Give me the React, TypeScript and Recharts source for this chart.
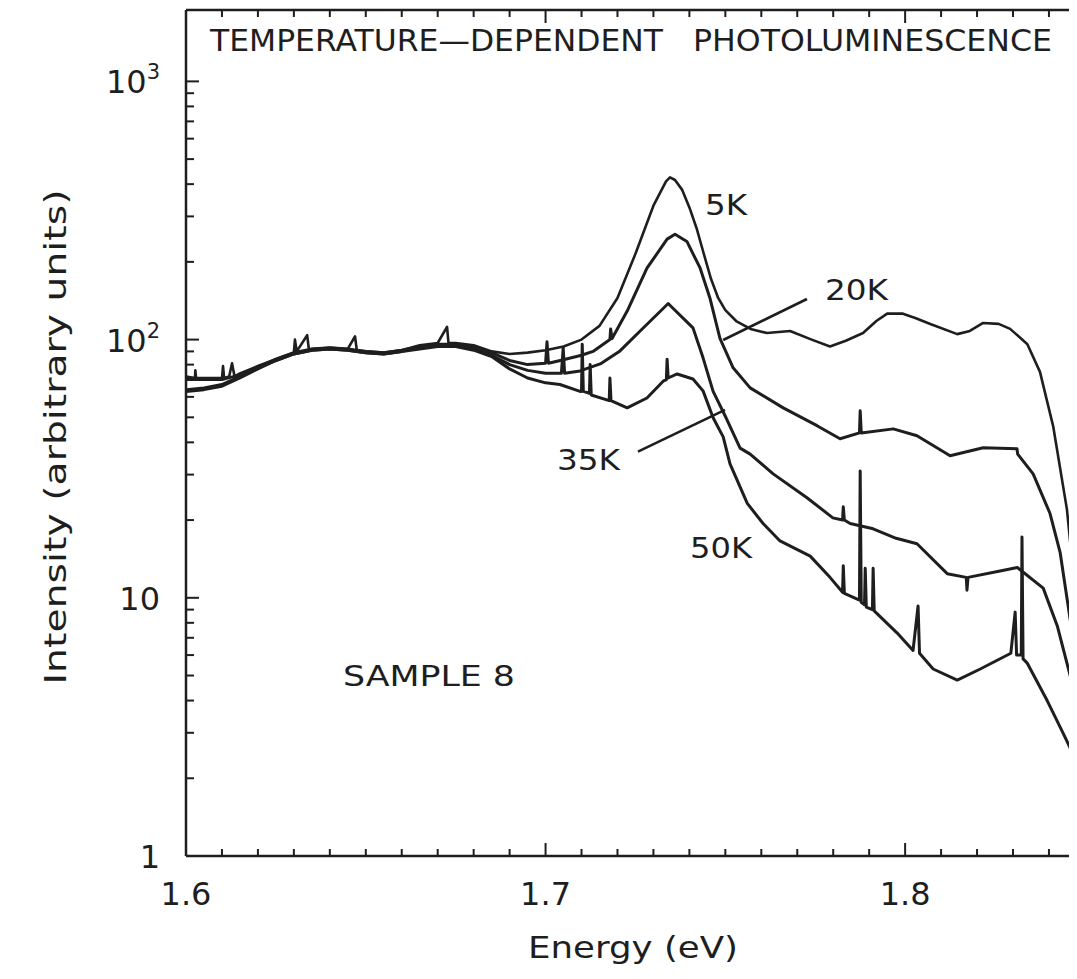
import React from 'react';
import { LineChart, Line, XAxis, YAxis, ReferenceLine } from 'recharts';

// ---- axes ----
const X_DOMAIN: [number, number] = [1.6, 1.8478];
const Y_DOMAIN: [number, number] = [1, 1890];
const xTicks = [1.6, 1.61, 1.62, 1.63, 1.64, 1.65, 1.66, 1.67, 1.68, 1.69, 1.7, 1.71, 1.72, 1.73, 1.74, 1.75, 1.76, 1.77, 1.78, 1.79, 1.8, 1.81, 1.82, 1.83, 1.84];
const xMajor = [1.6, 1.7, 1.8];
const yTicks = [1, 2, 3, 4, 5, 6, 7, 8, 9, 10, 20, 30, 40, 50, 60, 70, 80, 90, 100, 200, 300, 400, 500, 600, 700, 800, 900, 1000];
const yMajor = [1, 10, 100, 1000];

// ---- series: energy (eV) and intensity (a.u.) ----
const e5K = [1.6, 1.6025, 1.6026, 1.6028, 1.605, 1.61, 1.6103, 1.6106, 1.612, 1.6128, 1.6135, 1.615, 1.62, 1.625, 1.63, 1.6303, 1.6308, 1.6337, 1.6342, 1.635, 1.64, 1.645, 1.647, 1.6475, 1.65, 1.655, 1.66, 1.665, 1.67, 1.6726, 1.673, 1.675, 1.68, 1.685, 1.69, 1.695, 1.7, 1.705, 1.71, 1.715, 1.72, 1.725, 1.73, 1.7335, 1.7346, 1.736, 1.738, 1.74, 1.742, 1.744, 1.746, 1.748, 1.75, 1.753, 1.757, 1.7616, 1.768, 1.774, 1.7791, 1.7835, 1.7883, 1.792, 1.795, 1.7994, 1.803, 1.807, 1.8145, 1.818, 1.8217, 1.826, 1.8292, 1.834, 1.8375, 1.8412, 1.845, 1.8478];
const i5K = [72, 71, 76, 71, 71, 71, 79, 71, 72, 81, 72, 74, 79, 84, 89, 100, 90, 104, 91, 92, 93, 92, 103, 91, 90, 89, 91, 95, 97, 112, 97, 97, 95, 90, 88, 89, 91, 94, 100, 113, 145, 215, 330, 410, 425, 415, 380, 325, 270, 215, 172, 145, 130, 118, 110, 106, 108, 100, 94, 99, 106, 118, 126, 126, 121, 115, 105, 108, 116, 115, 110, 96, 75, 46, 22, 9];

const e20K = [1.6, 1.605, 1.61, 1.615, 1.62, 1.625, 1.63, 1.635, 1.64, 1.645, 1.65, 1.655, 1.66, 1.665, 1.67, 1.675, 1.68, 1.685, 1.69, 1.695, 1.7, 1.7004, 1.7008, 1.7041, 1.71, 1.7132, 1.7179, 1.7181, 1.7185, 1.7227, 1.7282, 1.7338, 1.736, 1.7393, 1.743, 1.7457, 1.7485, 1.7521, 1.7569, 1.7661, 1.7755, 1.7819, 1.7873, 1.7875, 1.7878, 1.7967, 1.8033, 1.8125, 1.8217, 1.8311, 1.8313, 1.8356, 1.8403, 1.8431, 1.8478];
const i20K = [70, 70, 70, 73, 78, 84, 89, 92, 93, 92, 90, 89, 91, 94, 96, 96, 94, 89, 83, 80, 81, 98, 81, 83, 87, 90, 100, 110, 101, 129, 189, 245, 256, 240, 189, 145, 101, 78, 65, 54.4, 46.4, 41.3, 43.5, 53, 43.5, 45.1, 42.4, 35.5, 38.1, 37.8, 36, 30.2, 21.2, 15, 5.5];

const e35K = [1.6, 1.605, 1.61, 1.615, 1.62, 1.625, 1.63, 1.635, 1.64, 1.645, 1.65, 1.655, 1.66, 1.665, 1.67, 1.675, 1.68, 1.685, 1.69, 1.695, 1.7, 1.7044, 1.7049, 1.7053, 1.7096, 1.7152, 1.7207, 1.7263, 1.7327, 1.7341, 1.7355, 1.741, 1.7438, 1.7466, 1.7502, 1.7541, 1.7569, 1.7633, 1.7727, 1.7799, 1.7826, 1.7828, 1.7831, 1.7847, 1.7911, 1.7975, 1.8033, 1.8117, 1.817, 1.8172, 1.8175, 1.8264, 1.8312, 1.8384, 1.8423, 1.8459, 1.8478];
const i35K = [64, 65, 67, 72, 78, 83, 88, 91, 92, 91, 89, 88, 90, 93, 95, 95, 92, 87, 80, 76, 74, 74, 93, 74, 75.6, 80.5, 90.4, 108, 132, 138, 132, 111, 85, 63, 49.8, 38, 36, 30.2, 24.4, 20.4, 20, 22.5, 20, 19.4, 18.5, 17, 16.2, 12.4, 12, 10.7, 12, 12.7, 13.1, 10.9, 7.8, 5, 3.6];

const e50K = [1.6, 1.605, 1.61, 1.615, 1.62, 1.625, 1.63, 1.635, 1.64, 1.645, 1.65, 1.655, 1.66, 1.665, 1.67, 1.675, 1.68, 1.685, 1.69, 1.695, 1.7, 1.704, 1.7096, 1.71, 1.7102, 1.7105, 1.7122, 1.7124, 1.7127, 1.7177, 1.7179, 1.7182, 1.7227, 1.7282, 1.7327, 1.7336, 1.7338, 1.7341, 1.7366, 1.741, 1.7438, 1.7466, 1.7494, 1.7513, 1.7561, 1.7605, 1.7652, 1.7736, 1.7791, 1.7826, 1.7828, 1.7831, 1.7873, 1.7875, 1.7878, 1.7887, 1.7889, 1.7892, 1.7909, 1.7911, 1.7914, 1.7978, 1.8022, 1.8036, 1.804, 1.8078, 1.8145, 1.8209, 1.8294, 1.8306, 1.831, 1.8323, 1.8325, 1.8328, 1.8339, 1.8395, 1.8439, 1.8478];
const i50K = [63, 64, 66, 71, 77, 83, 88, 91, 92, 91, 89, 88, 90, 92, 94, 94, 91, 86, 77, 71, 68, 67, 63, 63, 96, 63, 62, 80, 61, 58, 71, 58, 54.4, 59.4, 69, 70, 84, 71, 73.6, 70.4, 63.3, 49.8, 42, 33, 23.2, 19.4, 16.6, 14.5, 12, 10.5, 13.3, 10.4, 9.8, 31, 9.6, 9.4, 13, 9.2, 9, 13, 8.9, 7.3, 6.25, 9.3, 6.1, 5.3, 4.8, 5.3, 6.1, 8.8, 6, 6, 17.2, 5.8, 5.6, 4, 3, 2.3];

// leader lines for labels (energy, intensity)
const leader20K = [[1.7727, 143.6], [1.7494, 99.6]];
const leader35K = [[1.7257, 36.8], [1.7499, 53.4]];

const zip = (xs: number[], ys: number[]) => xs.map((x, i) => ({ x, y: ys[i] }));
const d5K = zip(e5K, i5K);
const d20K = zip(e20K, i20K);
const d35K = zip(e35K, i35K);
const d50K = zip(e50K, i50K);

const INK = '#1e1e1e';
const FONT = '"DejaVu Sans", sans-serif';
const W = 1069;
const H = 960;

const isMajorX = (v: number) => xMajor.some((m) => Math.abs(m - v) < 1e-6);
const isMajorY = (v: number) => yMajor.some((m) => Math.abs(m - v) < 1e-6);

const BottomTick = (props: any) => {
  const { x, y, payload } = props;
  const v = payload.value;
  const major = isMajorX(v);
  const axisY = y - 49;
  return (
    <g>
      <line x1={x} x2={x} y1={axisY} y2={axisY - (major ? 13 : 7)} stroke={INK} strokeWidth={2} />
      {major && (
        <text x={x} y={y} textAnchor="middle" fontFamily={FONT} fontSize={32} fill={INK}>
          {v.toFixed(1)}
        </text>
      )}
    </g>
  );
};

const TopTick = (props: any) => {
  const { x, y, payload } = props;
  const major = isMajorX(payload.value);
  return <line x1={x} x2={x} y1={y} y2={y + (major ? 13 : 7)} stroke={INK} strokeWidth={2} />;
};

const LeftTick = (props: any) => {
  const { x, y, payload } = props;
  const v = payload.value;
  const major = isMajorY(v);
  const axisX = x + 26;
  let label: React.ReactNode = null;
  if (major) {
    if (v === 1 || v === 10) {
      label = (
        <text x={x} y={y + 12} textAnchor="end" fontFamily={FONT} fontSize={32} fill={INK}>
          {String(v)}
        </text>
      );
    } else {
      const p = v === 100 ? '2' : '3';
      label = (
        <text x={x} y={y + 12} textAnchor="end" fontFamily={FONT} fontSize={32} fill={INK}>
          <tspan>10</tspan>
          <tspan dy={-14} fontSize={21}>{p}</tspan>
        </text>
      );
    }
  }
  return (
    <g>
      <line x1={axisX} x2={axisX + (major ? 13 : 8)} y1={y} y2={y} stroke={INK} strokeWidth={2} />
      {label}
    </g>
  );
};

const lineProps = {
  dataKey: 'y',
  stroke: INK,
  dot: false,
  isAnimationActive: false,
  type: 'linear' as const,
  strokeLinejoin: 'round' as const,
};

export default function App() {
  return (
    <div style={{ position: 'relative', width: W, height: H }}>
      <LineChart width={W} height={H} margin={{ top: 1, right: 0, bottom: 0, left: 0 }}>
        <XAxis
          dataKey="x"
          type="number"
          domain={X_DOMAIN}
          allowDataOverflow
          ticks={xTicks}
          interval={0}
          tickSize={0}
          tickMargin={49}
          height={112}
          tickLine={false}
          axisLine={{ stroke: INK, strokeWidth: 2.5 }}
          tick={BottomTick}
        />
        <XAxis
          xAxisId="top"
          orientation="top"
          dataKey="x"
          type="number"
          domain={X_DOMAIN}
          allowDataOverflow
          ticks={xTicks}
          interval={0}
          tickSize={0}
          tickMargin={0}
          height={1}
          tickLine={false}
          axisLine={{ stroke: INK, strokeWidth: 2.5 }}
          tick={TopTick}
        />
        <YAxis
          type="number"
          scale="log"
          domain={Y_DOMAIN}
          allowDataOverflow
          ticks={yTicks}
          interval={0}
          tickSize={0}
          tickMargin={26}
          width={178}
          tickLine={false}
          axisLine={{ stroke: INK, strokeWidth: 2.5 }}
          tick={LeftTick}
        />
        <Line data={d5K} {...lineProps} strokeWidth={2.6} />
        <Line data={d20K} {...lineProps} strokeWidth={3} />
        <Line data={d35K} {...lineProps} strokeWidth={3} />
        <Line data={d50K} {...lineProps} strokeWidth={3} />
        <ReferenceLine
          segment={[{ x: leader20K[0][0], y: leader20K[0][1] }, { x: leader20K[1][0], y: leader20K[1][1] }]}
          stroke={INK}
          strokeWidth={2.6}
        />
        <ReferenceLine
          segment={[{ x: leader35K[0][0], y: leader35K[0][1] }, { x: leader35K[1][0], y: leader35K[1][1] }]}
          stroke={INK}
          strokeWidth={2.6}
        />
      </LineChart>
      <svg
        width={W}
        height={H}
        style={{ position: 'absolute', left: 0, top: 0, pointerEvents: 'none' }}
        fontFamily={FONT}
        fill={INK}
      >
        <text x={202} y={43} fontSize={31} textLength={453} lengthAdjust="spacingAndGlyphs">TEMPERATURE—DEPENDENT</text>
        <text x={685} y={43} fontSize={31} textLength={359} lengthAdjust="spacingAndGlyphs">PHOTOLUMINESCENCE</text>
        <text x={697} y={207} fontSize={29} textLength={42} lengthAdjust="spacingAndGlyphs">5K</text>
        <text x={817} y={292} fontSize={29} textLength={63} lengthAdjust="spacingAndGlyphs">20K</text>
        <text x={549} y={462} fontSize={29} textLength={63} lengthAdjust="spacingAndGlyphs">35K</text>
        <text x={682} y={550} fontSize={29} textLength={62} lengthAdjust="spacingAndGlyphs">50K</text>
        <text x={335} y={678} fontSize={28} textLength={172} lengthAdjust="spacingAndGlyphs">SAMPLE 8</text>
        <text x={520} y={950} fontSize={31} textLength={210} lengthAdjust="spacingAndGlyphs">Energy (eV)</text>
        <text
          x={0}
          y={0}
          fontSize={31}
          textAnchor="middle"
          dominantBaseline="central"
          textLength={495}
          lengthAdjust="spacingAndGlyphs"
          transform="translate(47 429) rotate(-90)"
        >
          Intensity (arbitrary units)
        </text>
      </svg>
    </div>
  );
}
